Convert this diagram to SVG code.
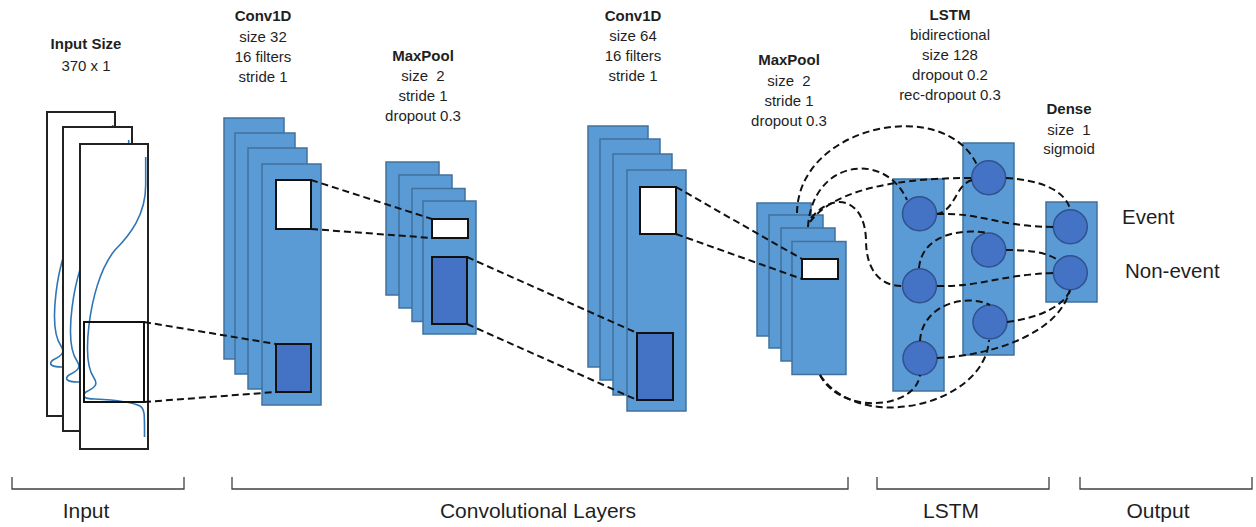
<svg xmlns="http://www.w3.org/2000/svg" xmlns:xlink="http://www.w3.org/1999/xlink" width="1256" height="527" viewBox="0 0 1256 527">
  <style>
    .lbl { font-family: "Liberation Sans", Arial, sans-serif; font-size: 15px; fill: #1f1f1f; text-anchor: middle; }
    .ttl { font-weight: bold; }
    .big { font-family: "Liberation Sans", Arial, sans-serif; font-size: 21px; fill: #1f1f1f; }
    .frame { fill: #ffffff; stroke: #222222; stroke-width: 2; }
    .signal { fill: none; stroke: #2e75b6; stroke-width: 1.6; }
    .fmap { fill: #5b9bd5; stroke: #41719c; stroke-width: 1.5; }
    .win { fill: #ffffff; stroke: #111111; stroke-width: 2; }
    .pool { fill: #4472c4; stroke: #111111; stroke-width: 2; }
    .unit { fill: #4472c4; stroke: #2f528f; stroke-width: 1.5; }
    .dash { fill: none; stroke: #111111; stroke-width: 2; stroke-dasharray: 7 4; }
    .brace { fill: none; stroke: #404040; stroke-width: 1.3; }
  </style>
  <defs>
    <path id="trace" d="M 145.7 157 L 145.7 185 C 145.7 215, 130 235, 115 250 C 100 268, 92 300, 89 325 C 86 350, 87 368, 94 378 C 98 384, 96 387, 86 392 C 82 395, 82 399, 95 399 C 115 400, 132 402, 140 406 C 145 409, 144.5 415, 144.5 437"/>
  </defs>

  <rect width="1256" height="527" fill="#ffffff"/>

  <!-- input signal, three stacked channels -->
  <g id="input">
    <rect class="frame" x="47" y="112" width="68" height="304"/>
    <use xlink:href="#trace" class="signal" transform="translate(-33,-32)"/>
    <rect class="frame" x="63" y="127" width="69" height="304"/>
    <use xlink:href="#trace" class="signal" transform="translate(-17,-17)"/>
    <rect class="frame" x="80" y="144" width="68" height="305"/>
    <use xlink:href="#trace" class="signal"/>
    <rect x="84" y="322" width="60" height="80" fill="none" stroke="#111111" stroke-width="2"/>
  </g>

  <g id="conv1">
    <rect class="fmap" x="224" y="118" width="60" height="241"/>
    <rect class="fmap" x="235" y="133" width="60" height="241"/>
    <rect class="fmap" x="248" y="148" width="59" height="241"/>
    <rect class="fmap" x="262" y="164" width="59" height="241"/>
    <rect class="win" x="276" y="180" width="35" height="49"/>
    <rect class="pool" x="276" y="344" width="35" height="48"/>
  </g>

  <g id="maxpool1">
    <rect class="fmap" x="386" y="162" width="53" height="133"/>
    <rect class="fmap" x="399" y="175" width="53" height="133"/>
    <rect class="fmap" x="412" y="188.5" width="53" height="133"/>
    <rect class="fmap" x="423" y="201" width="53" height="133"/>
    <rect class="win" x="432" y="219" width="36" height="19"/>
    <rect class="pool" x="432" y="257" width="35" height="67"/>
  </g>

  <g id="conv2">
    <rect class="fmap" x="588" y="126" width="60" height="241"/>
    <rect class="fmap" x="600" y="139" width="60" height="241"/>
    <rect class="fmap" x="613" y="154" width="59" height="241"/>
    <rect class="fmap" x="627" y="170" width="59" height="241"/>
    <rect class="win" x="640" y="187" width="36" height="47"/>
    <rect class="pool" x="637" y="333" width="36" height="67"/>
  </g>

  <g id="maxpool2">
    <rect class="fmap" x="757" y="203" width="54" height="133"/>
    <rect class="fmap" x="769" y="215" width="54" height="133"/>
    <rect class="fmap" x="781" y="228" width="54" height="133"/>
    <rect class="fmap" x="792" y="241.5" width="54" height="133"/>
    <rect class="win" x="802" y="259" width="36" height="20"/>
  </g>

  <g id="lstm-forward">
    <rect class="fmap" x="893" y="179" width="51" height="212"/>
    <circle class="unit" cx="919.5" cy="213.7" r="17"/>
    <circle class="unit" cx="919.5" cy="285.7" r="17"/>
    <circle class="unit" cx="920" cy="358.3" r="17"/>
  </g>

  <g id="lstm-backward">
    <rect class="fmap" x="963" y="143" width="51" height="212"/>
    <circle class="unit" cx="988.7" cy="177.7" r="17"/>
    <circle class="unit" cx="988.7" cy="250" r="17"/>
    <circle class="unit" cx="990" cy="322" r="17"/>
  </g>

  <g id="dense">
    <rect class="fmap" x="1046" y="202" width="51" height="100"/>
    <circle class="unit" cx="1070.3" cy="226.7" r="17"/>
    <circle class="unit" cx="1070.3" cy="272.7" r="17"/>
  </g>

  <g id="connectors">
    <!-- receptive fields between feature maps -->
    <line class="dash" x1="144" y1="322" x2="276" y2="344"/>
    <line class="dash" x1="144" y1="402" x2="276" y2="392"/>
    <line class="dash" x1="311" y1="180" x2="432" y2="219"/>
    <line class="dash" x1="311" y1="229" x2="432" y2="238"/>
    <line class="dash" x1="467" y1="257" x2="637" y2="333"/>
    <line class="dash" x1="467" y1="324" x2="637" y2="400"/>
    <line class="dash" x1="676" y1="187" x2="802" y2="259"/>
    <line class="dash" x1="676" y1="234" x2="802" y2="279"/>
    <!-- pooled features into the LSTM -->
    <path class="dash" d="M 797 213 C 798 125, 945 95, 977 165"/>
    <path class="dash" d="M 808 227 C 812 160, 885 150, 907 200"/>
    <path class="dash" d="M 810 222 C 830 195, 880 178, 971 178"/>
    <path class="dash" d="M 811 218 C 835 190, 865 200, 866 240 C 866 270, 880 286, 902 286"/>
    <path class="dash" d="M 820 375 C 840 415, 915 410, 920 375"/>
    <path class="dash" d="M 820 375 C 860 435, 985 405, 989 340"/>
    <!-- recurrent links -->
    <path class="dash" d="M 972 180 C 955 185, 956 210, 937 214"/>
    <path class="dash" d="M 919 268 C 922 235, 960 228, 988 233"/>
    <path class="dash" d="M 920 341 C 922 305, 965 293, 990 305"/>
    <!-- LSTM to dense -->
    <path class="dash" d="M 937 214 C 985 213, 995 226, 1053 227"/>
    <path class="dash" d="M 1006 178 C 1040 180, 1065 190, 1070 209"/>
    <path class="dash" d="M 1006 250 C 1030 250, 1045 252, 1058 260"/>
    <path class="dash" d="M 937 286 C 980 287, 1000 275, 1053 273"/>
    <path class="dash" d="M 1007 322 C 1040 318, 1065 305, 1070 290"/>
    <path class="dash" d="M 937 358 C 1000 355, 1060 330, 1070 290"/>
  </g>

  <g id="layer-labels">
    <text class="lbl ttl" x="86" y="49">Input Size</text>
    <text class="lbl" x="86" y="71">370 x 1</text>

    <text class="lbl ttl" x="263" y="21">Conv1D</text>
    <text class="lbl" x="263" y="41.5">size 32</text>
    <text class="lbl" x="263" y="62">16 filters</text>
    <text class="lbl" x="263" y="82">stride 1</text>

    <text class="lbl ttl" x="423" y="60.5">MaxPool</text>
    <text class="lbl" x="423" y="81" xml:space="preserve">size  2</text>
    <text class="lbl" x="423" y="101">stride 1</text>
    <text class="lbl" x="423" y="121">dropout 0.3</text>

    <text class="lbl ttl" x="633" y="20.5">Conv1D</text>
    <text class="lbl" x="633" y="41">size 64</text>
    <text class="lbl" x="633" y="61">16 filters</text>
    <text class="lbl" x="633" y="81">stride 1</text>

    <text class="lbl ttl" x="789" y="65">MaxPool</text>
    <text class="lbl" x="789" y="86" xml:space="preserve">size  2</text>
    <text class="lbl" x="789" y="106">stride 1</text>
    <text class="lbl" x="789" y="126">dropout 0.3</text>

    <text class="lbl ttl" x="950" y="19.5">LSTM</text>
    <text class="lbl" x="950" y="40">bidirectional</text>
    <text class="lbl" x="950" y="60">size 128</text>
    <text class="lbl" x="950" y="80">dropout 0.2</text>
    <text class="lbl" x="950" y="100">rec-dropout 0.3</text>

    <text class="lbl ttl" x="1069" y="114">Dense</text>
    <text class="lbl" x="1069" y="134.5" xml:space="preserve">size  1</text>
    <text class="lbl" x="1069" y="154">sigmoid</text>

    <text class="big" x="1122" y="224" style="font-size:20.5px">Event</text>
    <text class="big" x="1125" y="278" style="font-size:20.5px">Non-event</text>
  </g>

  <g id="stages">
    <path class="brace" d="M 12 477 V 489 H 184 V 477"/>
    <path class="brace" d="M 232 477 V 489 H 848 V 477"/>
    <path class="brace" d="M 877 477 V 489 H 1049 V 477"/>
    <path class="brace" d="M 1080 477 V 489 H 1252 V 477"/>
    <text class="big" x="86" y="518" text-anchor="middle">Input</text>
    <text class="big" x="538" y="518" text-anchor="middle">Convolutional Layers</text>
    <text class="big" x="951" y="518" text-anchor="middle">LSTM</text>
    <text class="big" x="1158" y="518" text-anchor="middle">Output</text>
  </g>
</svg>
